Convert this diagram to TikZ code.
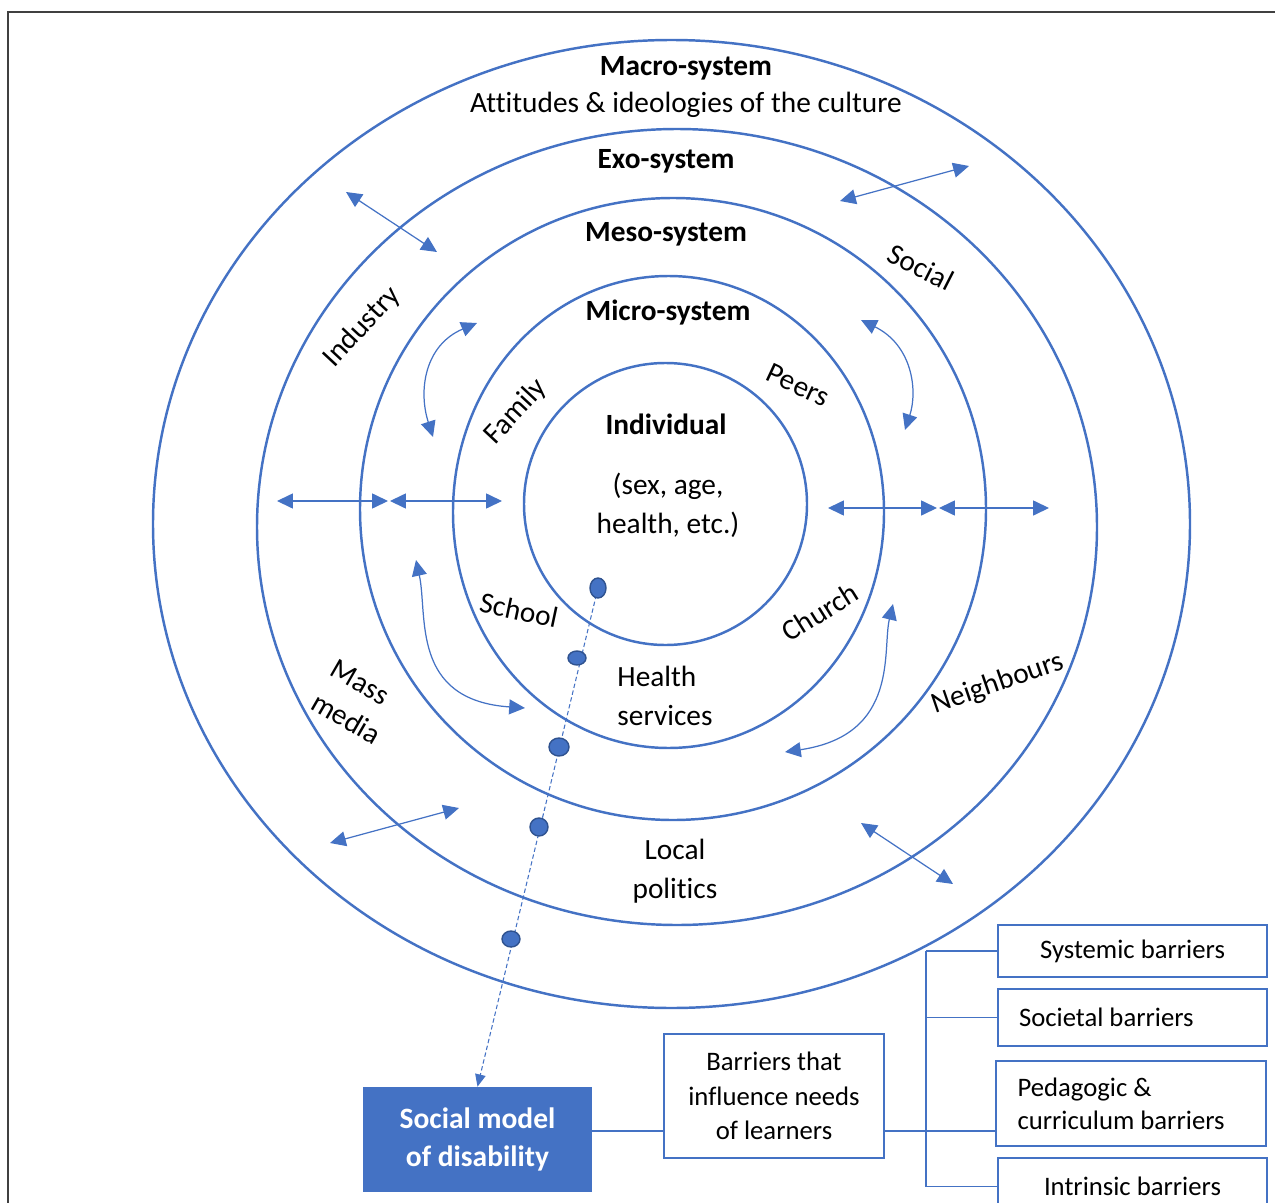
\documentclass[tikz,border=0pt]{standalone}
\usepackage{fontspec}
\setmainfont{Carlito}[Ligatures = CommonOff]
\usetikzlibrary{arrows.meta, shapes.geometric}
\definecolor{ringblue}{HTML}{4472C4}
\definecolor{beadedge}{HTML}{2F528F}

\begin{document}
\begin{tikzpicture}[x = 0.02cm, y = -0.02cm,
    ring/.style = {draw = ringblue, line width = 1.4pt},
    link/.style = {ringblue, line width = 0.7pt,
        {Triangle[length = 9pt, width = 8.5pt]}-{Triangle[length = 9pt, width = 8.5pt]}},
    word/.style = {inner sep = 0pt, font = \fontsize{16.7}{22}\selectfont},
    heading/.style = {word, font = \fontsize{16.7}{22}\selectfont\bfseries},
    bead/.style = {ellipse, fill = ringblue, draw = beadedge, line width = 0.8pt, inner sep = 0pt},
    barrier/.style = {draw = ringblue, line width = 1.4pt, fill = white,
        font = \fontsize{15.2}{19.5}\selectfont, minimum width = 5.38cm},
    wire/.style = {ringblue, line width = 0.6pt}]
    \path [use as bounding box, clip] (0, 0) rectangle (1275, 1203);
    \draw [black!75, line width = 0.9pt] (8, 1210) -- (8, 12) -- (1285, 12);
    \draw [ring] (671.5, 524) ellipse [x radius = 518.5, y radius = 484];
    \draw [ring] (677, 527) ellipse [x radius = 420, y radius = 398];
    \draw [ring] (673, 509) ellipse [x radius = 313, y radius = 311];
    \draw [ring] (668.5, 512) ellipse [x radius = 215.5, y radius = 236];
    \draw [ring] (665.5, 504) ellipse [x radius = 141.5, y radius = 141];
    \node [heading] (macro) at (686, 68) {Macro-system};
    \node [word] (culture) at (686, 105) {Attitudes \& ideologies of the culture};
    \node [heading] (exo) at (666, 161) {Exo-system};
    \node [heading] (meso) at (666, 234) {Meso-system};
    \node [heading] (micro) at (668, 313) {Micro-system};
    \node [heading] (individual) at (666, 424) {Individual};
    \node [word, align = center] (traits) at (668, 505) {(sex, age,\\health, etc.)};
    \node [word, rotate = 47] (industry) at (362, 327) {Industry};
    \node [word, rotate = -27] (socialring) at (921, 267) {Social};
    \node [word, rotate = 47] (family) at (516, 412) {Family};
    \node [word, rotate = -25] (peers) at (798, 385) {Peers};
    \node [word, rotate = -12] (school) at (519, 610) {School};
    \node [word, rotate = 32] (church) at (820, 612) {Church};
    \node [word, align = flush left] (health) at (665, 696) {Health\\services};
    \node [word, align = flush left, rotate = -30] (massmedia) at (356, 702) {Mass\\media};
    \node [word, rotate = 19] (neighbours) at (998, 684) {Neighbours};
    \node [word, align = center] (politics) at (675, 871) {Local\\politics};
    \draw [link] (346, 192) -- (437, 252);
    \draw [link] (840, 201) -- (969, 166);
    \draw [link] (277, 501) -- (388, 501);
    \draw [link] (390, 501) -- (502, 501);
    \draw [link] (828, 508) -- (937, 508);
    \draw [link] (939, 508) -- (1049, 508);
    \draw [link] (330, 843) -- (459, 808);
    \draw [link] (861, 823) -- (953, 884);
    \draw [link] (477, 323) .. controls (425, 345) and (418, 390) .. (433, 437);
    \draw [link] (861, 320) .. controls (912, 345) and (918, 390) .. (905, 430);
    \draw [link] (416, 560) .. controls (428, 615) and (410, 700) .. (525, 708);
    \draw [link] (893, 604) .. controls (882, 650) and (900, 735) .. (785, 752);
    \node [fill = ringblue, minimum width = 4.58cm, minimum height = 2.1cm, align = center,
        text = white, font = \fontsize{16.8}{22}\selectfont\bfseries] (socialmodel) at (477.5, 1139.5) {Social model\\of disability};
    \node [barrier, minimum width = 4.4cm, minimum height = 2.48cm, align = center] (barriers) at (774, 1096) {Barriers that\\influence needs\\of learners};
    \node [barrier, minimum height = 1.04cm] (systemic) at (1132.5, 951) {Systemic barriers};
    \node [barrier, minimum height = 1.14cm, text width = 4.54cm, align = flush left] (societal) at (1132.5, 1017.5) {Societal barriers};
    \node [barrier, minimum width = 5.4cm, minimum height = 1.7cm, text width = 4.54cm, align = flush left,
        font = \fontsize{15.2}{18.7}\selectfont] (pedagogic) at (1131, 1103.5) {Pedagogic \&\\curriculum barriers};
    \node [barrier, minimum height = 1.14cm] (intrinsic) at (1132.5, 1186.5) {Intrinsic barriers};
    \coordinate (start) at (598, 588);
    \draw [ringblue, line width = 0.6pt, dash pattern = on 2.5pt off 1.5pt, -{Triangle[length = 7pt, width = 6pt]}] (start) -- (socialmodel.north);
    \node [bead, minimum width = 16*0.02cm, minimum height = 20*0.02cm] (b1) at (start) {};
    \node [bead, minimum width = 18*0.02cm, minimum height = 14*0.02cm] (b2) at (577, 658) {};
    \node [bead, minimum width = 20*0.02cm, minimum height = 18*0.02cm] (b3) at (559, 747) {};
    \node [bead, minimum width = 18*0.02cm, minimum height = 18*0.02cm] (b4) at (539, 827) {};
    \node [bead, minimum width = 18*0.02cm, minimum height = 16*0.02cm] (b5) at (511, 939) {};
    \coordinate (bus) at (926, 1131);
    \draw [wire] (socialmodel.east |- bus) -- (barriers.west |- bus);
    \draw [wire] (barriers.east |- bus) -- (pedagogic.west |- bus);
    \draw [wire] (bus |- systemic.west) -- (bus |- intrinsic.west);
    \draw [wire] (bus |- systemic.west) -- (systemic.west);
    \draw [wire] (bus |- societal.west) -- (societal.west);
    \draw [wire] (bus |- intrinsic.west) -- (intrinsic.west);
\end{tikzpicture}
\end{document}
